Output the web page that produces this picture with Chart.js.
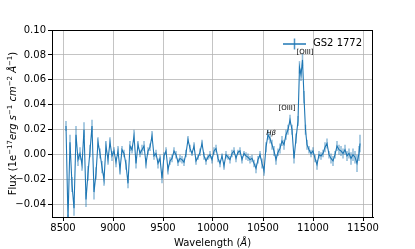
<!DOCTYPE html>
<html>
<head>
<meta charset="utf-8">
<script src="https://cdn.jsdelivr.net/npm/chart.js@4"></script>
<style>
html,body{margin:0;padding:0;background:#fff;}
#wrap{width:415px;height:249px;position:relative;}
</style>
</head>
<body>
<div id="wrap"><canvas id="c" width="415" height="249"></canvas></div>
<script>
const wavelength = [
 8530,8550,8570,8590,8610,8630,8650,8670,8690,8710,8730,8750,8770,8790,8810,8830,8850,8870,8890,8910,
 8930,8950,8970,8990,9010,9030,9050,9070,9090,9110,9130,9150,9170,9190,9210,9230,9250,9270,9290,9310,
 9330,9350,9370,9390,9410,9430,9450,9470,9490,9510,9530,9550,9570,9590,9610,9630,9650,9670,9690,9710,
 9730,9750,9770,9790,9810,9830,9850,9870,9890,9910,9930,9950,9970,9990,10010,10030,10050,10070,10090,10110,
 10130,10150,10170,10190,10210,10230,10250,10270,10290,10310,10330,10350,10370,10390,10410,10430,10450,10470,10490,10510,
 10530,10550,10570,10590,10610,10630,10650,10670,10690,10710,10730,10750,10770,10790,10810,10830,10850,10865,10880,10895,
 10910,10925,10940,10960,10980,11000,11020,11040,11060,11080,11100,11120,11140,11160,11180,11200,11220,11240,11260,11280,
 11300,11320,11340,11360,11380,11400,11420,11440,11460,11470
];
const flux = [
 0.023,-0.052,0.010,-0.024,-0.043,0.016,-0.004,0.001,-0.008,0.020,-0.036,-0.015,0.003,0.023,-0.030,-0.015,0.010,0.001,-0.010,-0.020,
 0.007,-0.004,0.010,-0.001,0.003,-0.006,0.003,-0.012,0.004,0.001,-0.008,-0.023,0.007,0.004,0.015,-0.007,0.008,0.001,0.004,0.007,
 -0.007,0.003,0.006,0.015,-0.001,0.001,-0.007,-0.003,-0.019,-0.001,0.003,-0.012,-0.005,-0.003,0.003,0.000,-0.006,-0.003,-0.004,-0.006,
 0.001,0.012,0.005,0.001,0.007,-0.005,-0.002,0.002,0.009,-0.001,-0.005,-0.002,0.000,-0.004,0.003,0.005,-0.003,-0.007,-0.001,-0.009,
 0.000,-0.002,-0.004,0.001,0.003,-0.003,0.002,0.003,-0.004,0.001,-0.001,-0.002,-0.004,-0.003,-0.007,-0.011,-0.004,0.000,-0.007,-0.013,
 0.006,0.016,0.013,0.008,0.003,-0.004,0.002,0.005,0.011,0.008,0.016,0.020,0.028,0.020,-0.003,0.013,0.027,0.070,0.064,0.076,
 0.046,0.020,0.008,0.004,0.001,0.003,-0.003,-0.008,0.000,-0.001,0.001,0.006,0.009,0.000,-0.003,-0.005,0.000,0.007,0.004,0.003,
 0.001,0.004,-0.001,0.001,-0.003,0.000,-0.002,-0.007,0.001,0.009
];
const fluxErr = [
 0.004,0.004,0.006,0.006,0.006,0.007,0.005,0.005,0.005,0.006,0.006,0.006,0.005,0.005,0.006,0.005,0.004,0.004,0.005,0.005,
 0.004,0.004,0.004,0.004,0.003,0.004,0.004,0.004,0.003,0.003,0.004,0.004,0.004,0.003,0.005,0.004,0.003,0.003,0.004,0.004,
 0.004,0.003,0.003,0.004,0.003,0.003,0.004,0.003,0.004,0.003,0.003,0.004,0.003,0.003,0.003,0.003,0.003,0.003,0.003,0.003,
 0.003,0.003,0.003,0.002,0.003,0.003,0.002,0.003,0.003,0.003,0.003,0.002,0.003,0.003,0.003,0.003,0.003,0.003,0.002,0.003,
 0.003,0.002,0.003,0.003,0.003,0.003,0.002,0.003,0.003,0.002,0.003,0.003,0.003,0.003,0.003,0.004,0.003,0.003,0.004,0.004,
 0.004,0.004,0.004,0.004,0.004,0.004,0.003,0.004,0.004,0.004,0.004,0.004,0.004,0.004,0.004,0.004,0.004,0.005,0.005,0.005,
 0.005,0.004,0.004,0.003,0.003,0.003,0.003,0.004,0.003,0.003,0.003,0.004,0.004,0.003,0.004,0.004,0.003,0.004,0.004,0.004,
 0.004,0.004,0.004,0.004,0.005,0.005,0.005,0.007,0.006,0.007
];
const xTicks = [8500,9000,9500,10000,10500,11000,11500];
const yTicks = [-0.04,-0.02,0.00,0.02,0.04,0.06,0.08,0.10];
const seriesName = 'GS2 1772';
const lineLabels = ['H\u03B2','[OIII]','[OIII]'];
const lineWave = [10580,10740,10920];
const lineFlux = [0.0176,0.0376,0.082];
// axis titles as runs: [text, style] with style n=normal, i=italic, s=superscript
const xTitleRuns = [['Wavelength (','n'],['\u00C5','i'],[')','n']];
const yTitleRuns = [['Flux (1e','n'],['\u221217','s'],['erg s','i'],['\u22121','s'],[' cm','i'],['\u22122','s'],[' \u00C5','i'],['\u22121','s'],[')','n']];

const BLUE = '#1f77b4';
const FONT = 'DejaVu Sans';

function runFont(st){
  if(st==='s') return '7px "'+FONT+'"';
  if(st==='i') return 'italic 10px "'+FONT+'"';
  return '10px "'+FONT+'"';
}
function drawRuns(ctx, runs, cx, cy, rot){
  ctx.save();
  ctx.translate(cx, cy);
  ctx.rotate(rot);
  ctx.textBaseline = 'alphabetic';
  ctx.textAlign = 'left';
  let total = 0;
  for(const [t,st] of runs){ ctx.font = runFont(st); total += ctx.measureText(t).width; }
  let x = -total/2;
  for(const [t,st] of runs){
    ctx.font = runFont(st);
    ctx.fillText(t, x, st==='s' ? -0.5 : 3.5);
    x += ctx.measureText(t).width;
  }
  ctx.restore();
}

const errorBars = {
  id:'errorBars',
  beforeDatasetsDraw(chart){
    const {ctx, chartArea:a, scales:{x,y}} = chart;
    ctx.save();
    ctx.beginPath(); ctx.rect(a.left,a.top,a.right-a.left,a.bottom-a.top); ctx.clip();
    ctx.strokeStyle = 'rgba(31,119,180,0.5)';
    ctx.lineWidth = 1.5;
    for(let i=0;i<wavelength.length;i++){
      const px = x.getPixelForValue(wavelength[i]);
      ctx.beginPath();
      ctx.moveTo(px, y.getPixelForValue(flux[i]-fluxErr[i]));
      ctx.lineTo(px, y.getPixelForValue(flux[i]+fluxErr[i]));
      ctx.stroke();
    }
    ctx.restore();
  },
  afterDraw(chart){
    const {ctx, chartArea:a, scales:{x,y}} = chart;
    ctx.save();
    // frame
    ctx.strokeStyle = '#000'; ctx.lineWidth = 1;
    ctx.strokeRect(Math.round(a.left)+0.5, Math.round(a.top)+0.5, Math.round(a.right-a.left)-1, Math.round(a.bottom-a.top));
    // axis titles
    ctx.fillStyle = '#000';
    drawRuns(ctx, xTitleRuns, (a.left+a.right)/2, 242, 0);
    drawRuns(ctx, yTitleRuns, 12, (a.top+a.bottom)/2, -Math.PI/2);
    // line labels
    ctx.textAlign = 'center'; ctx.textBaseline = 'middle';
    for(let i=0;i<lineLabels.length;i++){
      ctx.font = (i===0 ? 'italic ' : '') + '7px "' + FONT + '"';
      ctx.fillText(lineLabels[i], x.getPixelForValue(lineWave[i]), y.getPixelForValue(lineFlux[i]));
    }
    // legend
    const ly = a.top + 14;
    const lx = a.right - 90;
    ctx.strokeStyle = BLUE; ctx.lineWidth = 1.5;
    ctx.beginPath(); ctx.moveTo(lx, ly); ctx.lineTo(lx+23, ly); ctx.stroke();
    ctx.strokeStyle = 'rgba(31,119,180,0.8)';
    ctx.beginPath(); ctx.moveTo(lx+11.5, ly-5.5); ctx.lineTo(lx+11.5, ly+5.5); ctx.stroke();
    ctx.fillStyle = '#000';
    ctx.font = '10px "' + FONT + '"';
    ctx.textAlign = 'left';
    ctx.fillText(seriesName, lx+30, ly-1);
    ctx.restore();
  }
};

const grid = 'rgba(176,176,176,0.75)';

new Chart(document.getElementById('c'), {
  type:'line',
  data:{ datasets:[{
    label: seriesName,
    data: wavelength.map((w,i)=>({x:w, y:flux[i]})),
    borderColor: BLUE,
    borderWidth: 1.1,
    pointRadius: 0,
    tension: 0,
    fill:false
  }]},
  options:{
    responsive:false,
    animation:false,
    devicePixelRatio:1,
    layout:{padding:{left:0,right:42,top:30,bottom:0}},
    plugins:{legend:{display:false}, tooltip:{enabled:false}},
    scales:{
      x:{
        type:'linear', min:8390, max:11600,
        afterBuildTicks(s){ s.ticks = xTicks.map(v=>({value:v})); },
        afterFit(s){ s.height = 32; },
        grid:{color:grid, lineWidth:1, tickLength:4, tickColor:'#000', drawTicks:true},
        border:{display:true, color:'#000', width:1},
        ticks:{color:'#000', font:{family:FONT,size:10}, padding:1, maxRotation:0, autoSkip:false,
               callback:(v)=>String(v)},
        title:{display:false}
      },
      y:{
        type:'linear', min:-0.05, max:0.10,
        afterBuildTicks(s){ s.ticks = yTicks.map(v=>({value:v})); },
        afterFit(s){ s.width = 52; },
        grid:{color:grid, lineWidth:1, tickLength:4, tickColor:'#000'},
        border:{display:true, color:'#000', width:1},
        ticks:{color:'#000', font:{family:FONT,size:10}, padding:2, autoSkip:false,
               callback:(v)=>(v<0?'\u2212':'')+Math.abs(v).toFixed(2)},
        title:{display:false}
      }
    }
  },
  plugins:[errorBars]
});
</script>
</body>
</html>
